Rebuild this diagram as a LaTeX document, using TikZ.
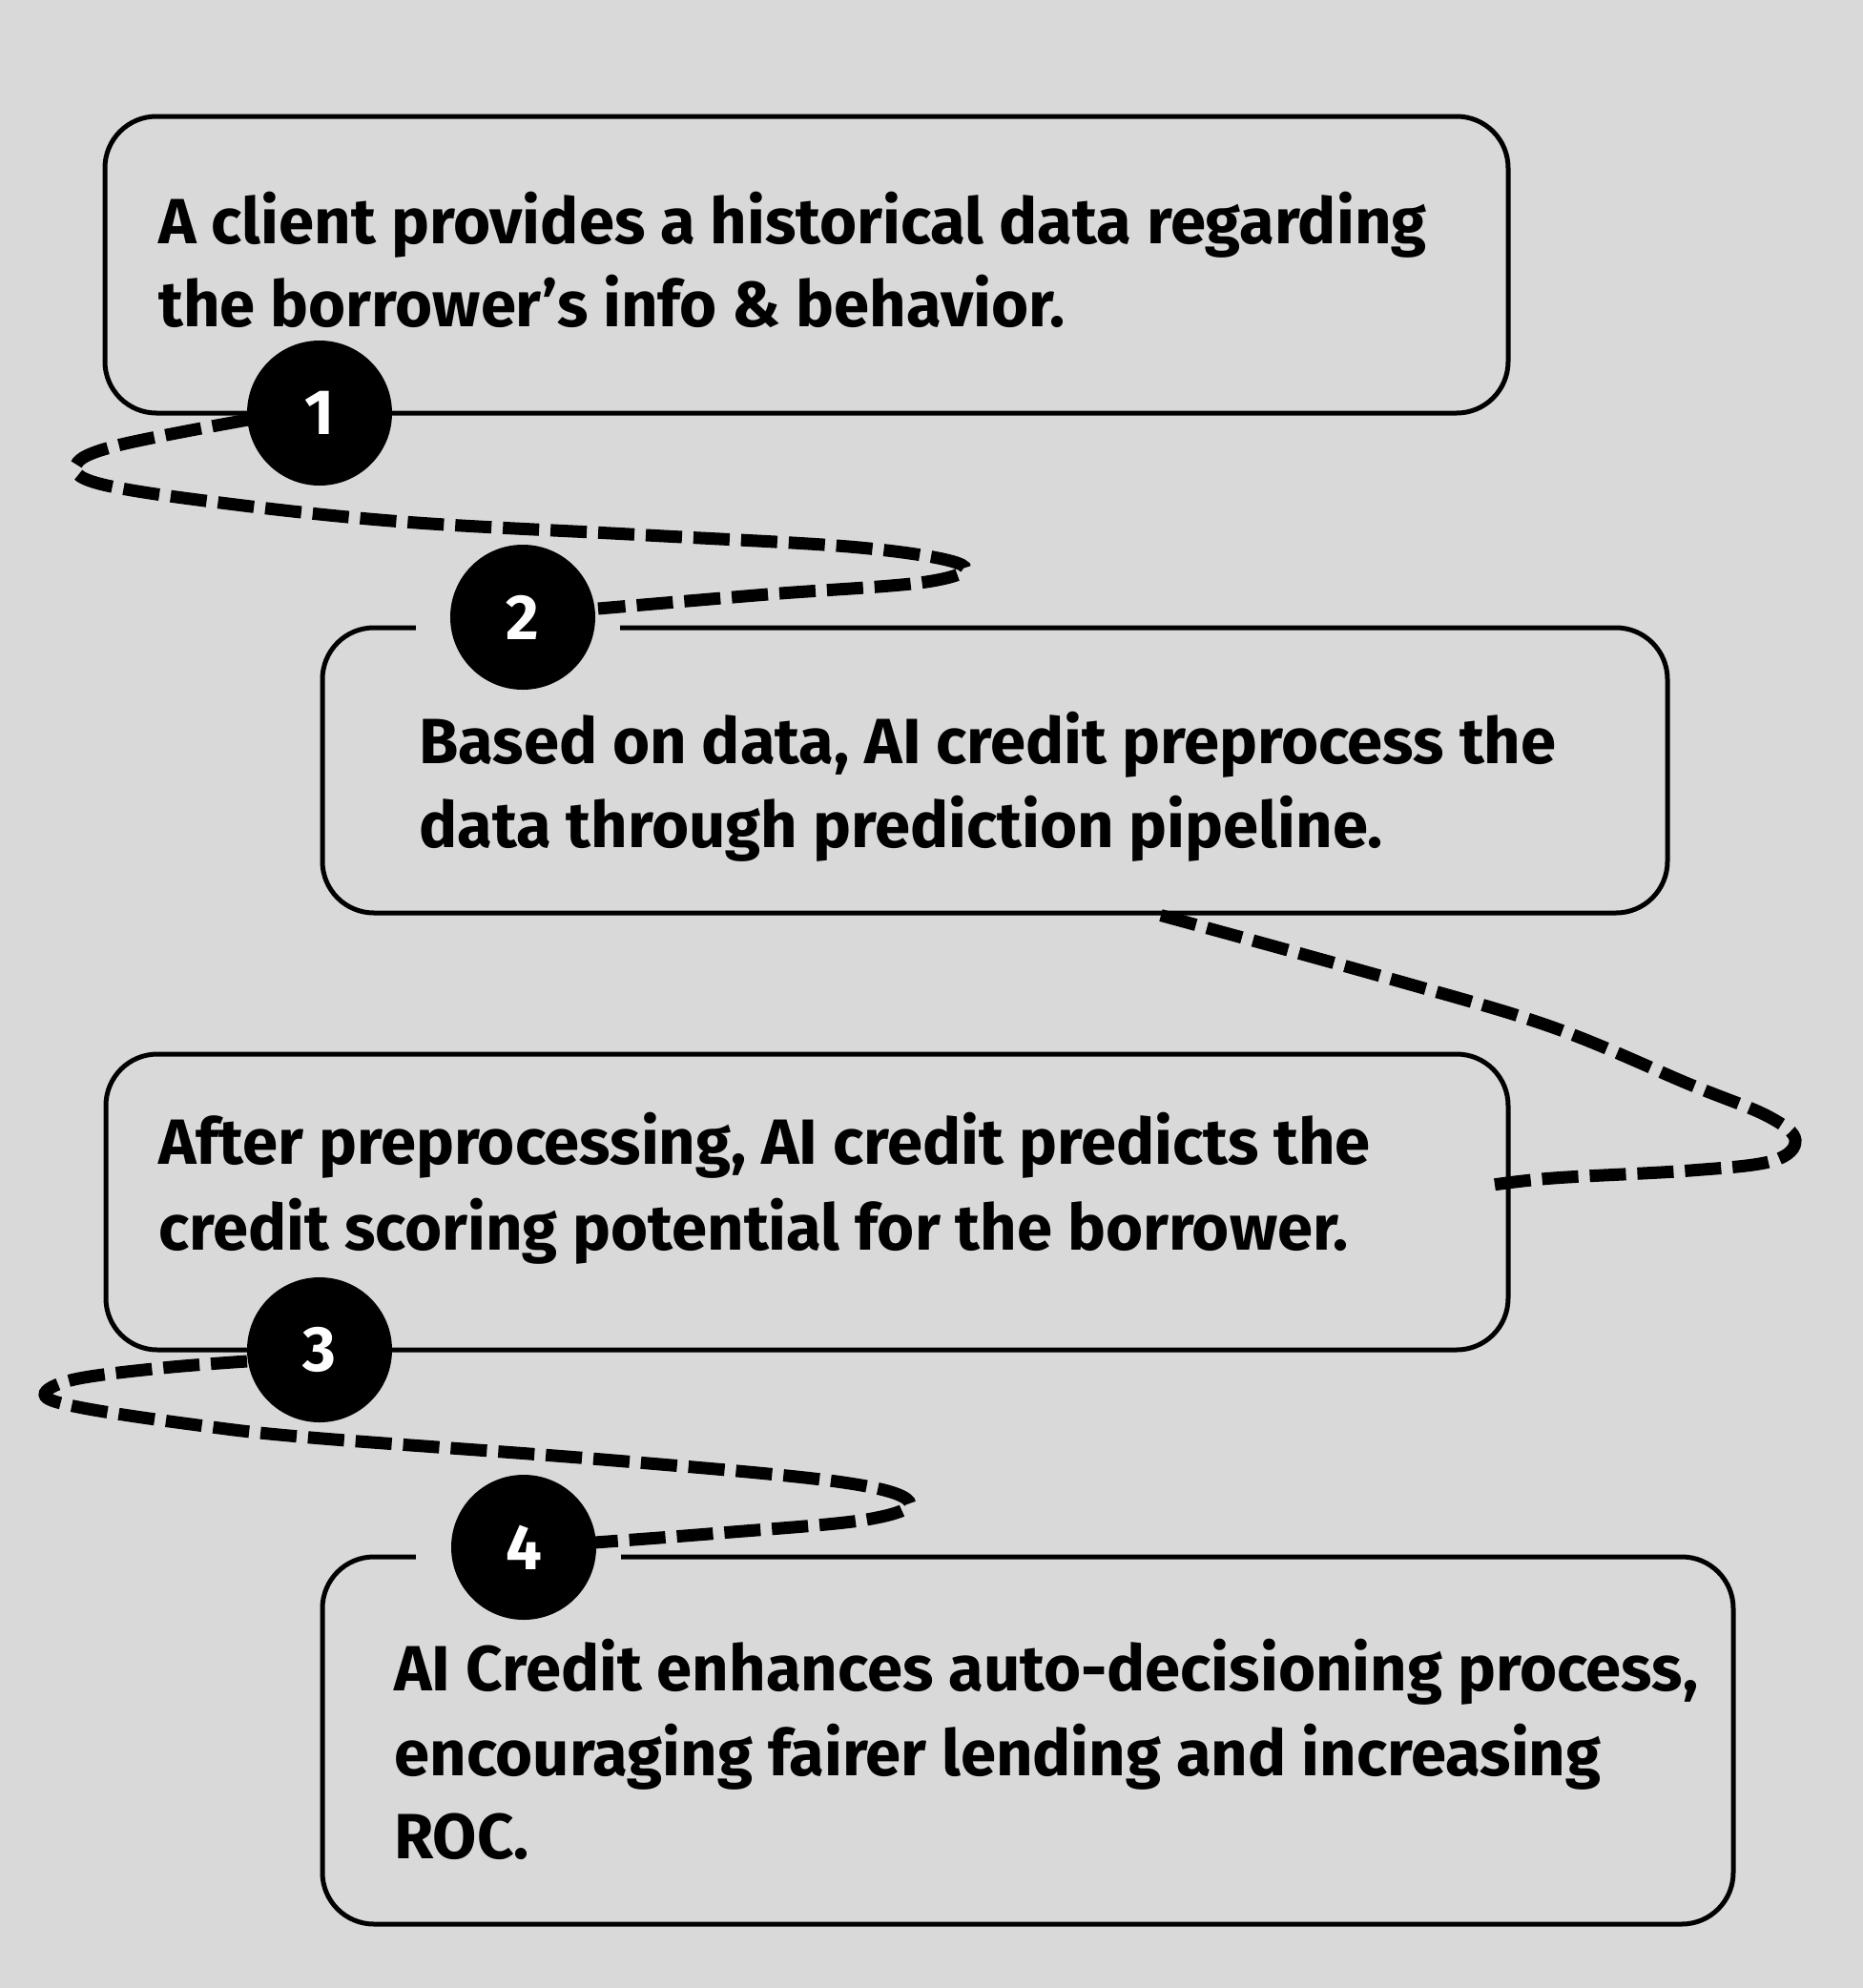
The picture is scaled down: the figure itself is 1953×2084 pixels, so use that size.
\documentclass[tikz,border=0pt]{standalone}
\usepackage{fontspec}
\setmainfont{Fira Sans}
\usetikzlibrary{calc}
\definecolor{bg}{HTML}{D9D9D9}
\begin{document}
\begin{tikzpicture}[x=0.5pt,y=-0.5pt,
  box/.style={draw, line width=2.5pt, rounded corners=27pt, rectangle, inner sep=0pt},
  num/.style={circle, fill=black, text=white, minimum size=76pt, inner sep=0pt, font=\fontsize{33.5}{40}\selectfont\bfseries},
  txt/.style={anchor=base west, inner sep=0pt, font=\fontsize{33.5}{40}\selectfont\bfseries},
  conn/.style={line width=6.5pt, dash pattern=on 19pt off 6pt},
  gap/.style={fill=bg, draw=none}]
\fill[bg] (0,0) rectangle (1953,2084);
\useasboundingbox (0,0) rectangle (1953,2084);

% boxes
\node[box, minimum width=735.5pt, minimum height=155.5pt] (b1) at (845.5,277.5) {};
\node[box, minimum width=705pt, minimum height=149.5pt] (b2) at (1043,807.5) {};
\node[box, minimum width=735pt, minimum height=155pt] (b3) at (846,1260) {};
\node[box, minimum width=739.5pt, minimum height=192.5pt] (b4) at (1077.5,1824.5) {};

% gaps in top borders
\fill[bg] (436,648) rectangle (650,668);
\fill[bg] (436,1622) rectangle (651,1642);

% texts
\node[txt] (t1a) at (166,255) {A client provides a historical data regarding};
\node[txt] (t1b) at (166,342) {the borrower’s info \& behavior.};
\node[txt] (t2a) at (439,800) {Based on data, AI credit preprocess the};
\node[txt] (t2b) at (439,888) {data through prediction pipeline.};
\node[txt] (t3a) at (166,1220) {After preprocessing, AI credit predicts the};
\node[txt] (t3b) at (166,1310) {credit scoring potential for the borrower.};
\node[txt] (t4a) at (413,1772) {AI Credit enhances auto-decisioning process,};
\node[txt] (t4b) at (413,1861) {encouraging fairer lending and increasing};
\node[txt] (t4c) at (413,1948) {ROC.};

% number circles (positions)
\coordinate (p1) at (335,433);
\coordinate (p2) at (548,647);
\coordinate (p3) at (335,1415);
\coordinate (p4) at (549,1622);

% connectors
\coordinate (s2) at ($(b2.south)+(174,0)$);
\coordinate (e3) at ($(b3.east)+(-25,-17)$);
\draw[conn] plot[smooth, tension=0.6] coordinates {($(p1)+(-75,7)$) (123,467) (80,487) (104,507) (231,527) (423,547) (678,561) (901,574) (1008,592) (971,610) (805,623) ($(p2)+(79,-9)$)};
\draw[conn] plot[smooth, tension=0.6] coordinates {(s2) (1461,1027) (1628,1077) (1772,1137) (1853,1170) (1882,1195) (1858,1217) (1772,1227) (1628,1235) (e3)};
\draw[conn] plot[smooth, tension=0.6] coordinates {($(p3)+(-76,12)$) (170,1434) (78,1446) (47,1462) (82,1475) (200,1493) (326,1507) (632,1530) (877,1553) (953,1574) (908,1593) (755,1607) ($(p4)+(74,-5)$)};

\node[num] (c1) at (p1) {1};
\node[num] (c2) at (p2) {2};
\node[num] (c3) at (p3) {3};
\node[num] (c4) at (p4) {4};
\end{tikzpicture}
\end{document}
